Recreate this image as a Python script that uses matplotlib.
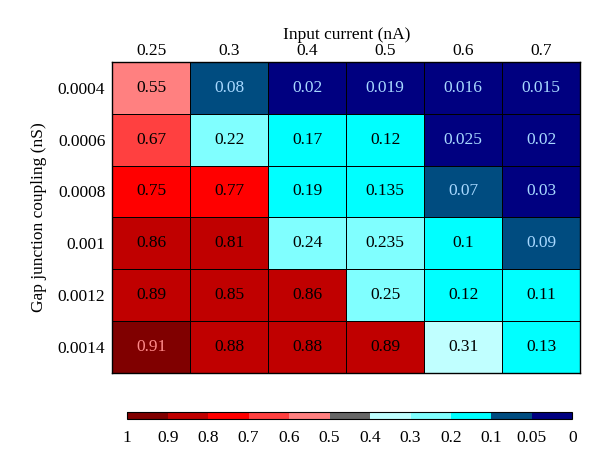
import numpy as np
import matplotlib.pyplot as plt
from matplotlib.colors import ListedColormap, BoundaryNorm
from matplotlib.cm import ScalarMappable

plt.rcParams['font.family'] = ['Liberation Serif', 'DejaVu Serif']

# data
currents = ['0.25', '0.3', '0.4', '0.5', '0.6', '0.7']
couplings = ['0.0004', '0.0006', '0.0008', '0.001', '0.0012', '0.0014']
values = np.array([
    [0.55, 0.08, 0.02, 0.019, 0.016, 0.015],
    [0.67, 0.22, 0.17, 0.12, 0.025, 0.02],
    [0.75, 0.77, 0.19, 0.135, 0.07, 0.03],
    [0.86, 0.81, 0.24, 0.235, 0.1, 0.09],
    [0.89, 0.85, 0.86, 0.25, 0.12, 0.11],
    [0.91, 0.88, 0.88, 0.89, 0.31, 0.13],
])
labels = [['0.55', '0.08', '0.02', '0.019', '0.016', '0.015'],
          ['0.67', '0.22', '0.17', '0.12', '0.025', '0.02'],
          ['0.75', '0.77', '0.19', '0.135', '0.07', '0.03'],
          ['0.86', '0.81', '0.24', '0.235', '0.1', '0.09'],
          ['0.89', '0.85', '0.86', '0.25', '0.12', '0.11'],
          ['0.91', '0.88', '0.88', '0.89', '0.31', '0.13']]

bounds = [0, 0.05, 0.1, 0.2, 0.3, 0.4, 0.5, 0.6, 0.7, 0.8, 0.9, 1.0]
bound_labels = ['0', '0.05', '0.1', '0.2', '0.3', '0.4', '0.5', '0.6', '0.7', '0.8', '0.9', '1']
colors = ['#000080', '#004c80', '#00ffff', '#80ffff', '#c0ffff', '#666666',
          '#ff8080', '#ff4040', '#ff0000', '#c00000', '#800000']

cmap = ListedColormap(colors)
norm = BoundaryNorm(bounds, cmap.N)

fig = plt.figure(figsize=(6, 4.65), dpi=100)
ax = fig.add_axes([0.187, 0.198, 0.78, 0.669])

ax.pcolormesh(values, cmap=cmap, norm=norm, edgecolors='black', linewidth=0.7)
ax.set_xlim(0, len(currents))
ax.set_ylim(len(couplings), 0)

for i in range(len(couplings)):
    for j in range(len(currents)):
        v = values[i, j]
        if v < 0.1:
            c = '#a8d8ff'
        elif v >= 0.9:
            c = '#ff8a8a'
        else:
            c = 'black'
        ax.text(j + 0.5, i + 0.5, labels[i][j], ha='center', va='center',
                fontsize=12.5, color=c)

ax.xaxis.tick_top()
ax.xaxis.set_label_position('top')
ax.set_xticks(np.arange(len(currents)) + 0.5)
ax.set_xticklabels(currents, fontsize=12.5)
ax.set_yticks(np.arange(len(couplings)) + 0.5)
ax.set_yticklabels(couplings, fontsize=12.5)
ax.tick_params(axis='y', length=0, pad=5)
ax.tick_params(axis='x', length=0, pad=2)
ax.set_xlabel('Input current (nA)', fontsize=12.5, labelpad=3)
ax.set_ylabel('Gap junction coupling (nS)', fontsize=12.5, labelpad=8)
for s in ax.spines.values():
    s.set_linewidth(1.0)

# colorbar
cax = fig.add_axes([0.212, 0.099, 0.742, 0.014])
sm = ScalarMappable(norm=norm, cmap=cmap)
cb = fig.colorbar(sm, cax=cax, orientation='horizontal', spacing='uniform',
                  ticks=bounds, drawedges=True)
cb.ax.set_xticklabels(bound_labels, fontsize=12.5)
cb.ax.tick_params(length=0, pad=8)
cb.outline.set_linewidth(0.8)
cb.dividers.set_linewidth(0.8)
cax.invert_xaxis()

fig.savefig('out.png', dpi=100)
